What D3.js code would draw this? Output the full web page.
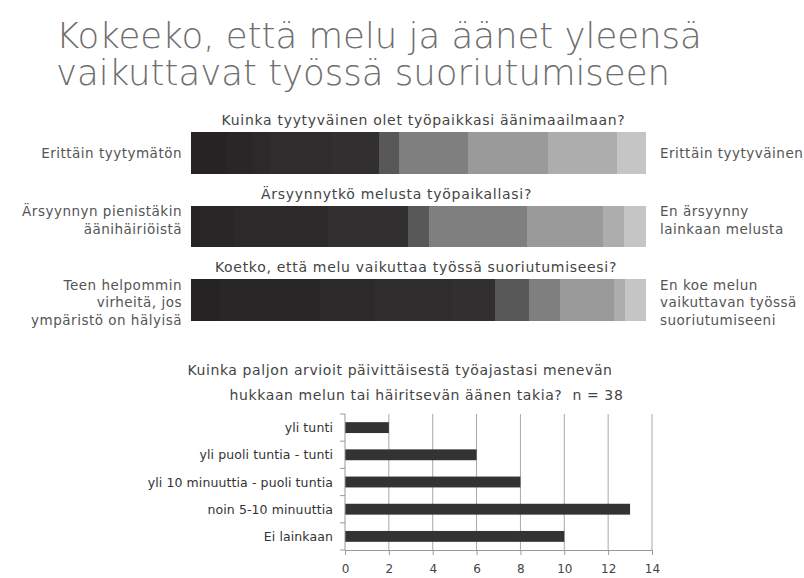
<!DOCTYPE html>
<html>
<head>
<meta charset="utf-8">
<script src="https://cdn.jsdelivr.net/npm/d3@7/dist/d3.min.js"></script>
<style>
  html, body { margin: 0; padding: 0; background: #fff; }
  svg { display: block; }
  text { font-family: "DejaVu Sans", "Open Sans", sans-serif; white-space: pre; }
</style>
</head>
<body>
<svg id="chart" width="804" height="578"></svg>
<script>
// ---- Data -------------------------------------------------------------
const titleLines = ["Kokeeko, että melu ja äänet yleensä", "vaikuttavat työssä suoriutumiseen"];

// Three 10-step scale questions, share of answers per step (%)
const questions = [
  "Kuinka tyytyväinen olet työpaikkasi äänimaailmaan?",
  "Ärsyynnytkö melusta työpaikallasi?",
  "Koetko, että melu vaikuttaa työssä suoriutumiseesi?"
];
const leftLabels = [
  ["Erittäin tyytymätön"],
  ["Ärsyynnyn pienistäkin", "äänihäiriöistä"],
  ["Teen helpommin", "virheitä, jos", "ympäristö on hälyisä"]
];
const rightLabels = [
  ["Erittäin tyytyväinen"],
  ["En ärsyynny", "lainkaan melusta"],
  ["En koe melun", "vaikuttavan työssä", "suoriutumiseeni"]
];
const scaleSteps = ["1", "2", "3", "4", "5", "6", "7", "8", "9", "10"];
const shares = [
  [7.9, 5.5, 4.0, 13.6, 10.3, 4.4, 15.2, 17.6, 15.2, 6.3],
  [2.0, 7.7, 20.4, 0.0, 17.6, 4.6, 21.5, 16.7, 4.6, 4.9],
  [6.4, 22.0, 11.6, 17.4, 9.5, 7.3, 6.8, 11.9, 2.4, 4.7]
];
const stepColors = ["#252324", "#282627", "#2b292a", "#2e2c2d", "#312f30",
                    "#585858", "#7f7f7f", "#9a9a9a", "#adadad", "#c5c5c5"];

// Time lost daily to noise
const timeTitle = ["Kuinka paljon arvioit päivittäisestä työajastasi menevän",
                   "hukkaan melun tai häiritsevän äänen takia?  n = 38"];
const timeCategories = ["yli tunti", "yli puoli tuntia - tunti", "yli 10 minuuttia - puoli tuntia",
                        "noin 5-10 minuuttia", "Ei lainkaan"];
const timeCounts = [2, 6, 8, 13, 10];
const timeTicks = [0, 2, 4, 6, 8, 10, 12, 14];

// ---- Drawing ----------------------------------------------------------
const svg = d3.select("#chart");

// Main heading, two lines in one text block
svg.append("text")
  .attr("font-size", 35.5).attr("font-weight", 200)
  .attr("fill", "#6e6e6e")
  .selectAll("tspan").data(titleLines).join("tspan")
  .attr("x", 56).attr("y", (d, i) => 48 + i * 37)
  .text(d => d);

// Stacked scale bars
const xs = d3.scaleLinear().domain([0, 100]).range([191, 646]);
const ys = d3.scaleBand().domain(questions).range([132, 321]).paddingInner(0.4286).paddingOuter(0);
const titleDx = [5, -22, -2.5];

const stackRows = questions.map((q, qi) => {
  let acc = 0;
  return shares[qi].map((v, si) => {
    const seg = { q, step: scaleSteps[si], x0: acc, x1: acc + v, color: stepColors[si] };
    acc += v;
    return seg;
  });
});

const rows = svg.append("g").selectAll("g").data(questions).join("g");
rows.selectAll("rect").data((q, qi) => stackRows[qi]).join("rect")
  .attr("x", d => xs(d.x0))
  .attr("width", d => Math.max(0, xs(d.x1) - xs(d.x0)))
  .attr("y", d => ys(d.q))
  .attr("height", ys.bandwidth())
  .attr("shape-rendering", "crispEdges")
  .attr("fill", d => d.color);

rows.append("text")
  .attr("x", (q, i) => (xs(0) + xs(100)) / 2 + titleDx[i])
  .attr("y", q => ys(q) - 7)
  .attr("text-anchor", "middle")
  .attr("font-size", 14)
  .attr("letter-spacing", 0.7)
  .attr("fill", "#444")
  .text(q => q);

function sideLabels(lines, x, anchor) {
  rows.each(function (q, qi) {
    const ls = lines[qi];
    const lh = 17.5;
    const firstMid = ls.length > 1 ? ys(q) + 5.5 : ys(q) + ys.bandwidth() / 2;
    d3.select(this).selectAll("text.side-" + anchor).data(ls).join("text")
      .attr("class", "side-" + anchor)
      .attr("x", x)
      .attr("y", (d, i) => firstMid + i * lh + 5)
      .attr("text-anchor", anchor)
      .attr("font-size", 13.5)
      .attr("letter-spacing", 0.5)
      .attr("fill", "#555")
      .text(d => d);
  });
}
sideLabels(leftLabels, 182, "end");
sideLabels(rightLabels, 660, "start");

// Horizontal bar chart
const bx = d3.scaleLinear().domain([0, 14]).range([345, 652]);
const by = d3.scaleBand().domain(timeCategories).range([414, 550]).paddingInner(0.6).paddingOuter(0.3);

svg.append("g").selectAll("text").data(timeTitle).join("text")
  .attr("x", (d, i) => i === 0 ? 400 : 426.5)
  .attr("y", (d, i) => 375 + i * 25)
  .attr("text-anchor", "middle")
  .attr("font-size", 14)
  .attr("letter-spacing", 0.6)
  .attr("fill", "#444")
  .text(d => d);

// Vertical gridlines
svg.append("g").selectAll("line").data(timeTicks.slice(1)).join("line")
  .attr("x1", d => bx(d)).attr("x2", d => bx(d))
  .attr("y1", 414).attr("y2", 550)
  .attr("stroke", "#a8a8a8").attr("stroke-width", 1);

// Bars
svg.append("g").selectAll("rect").data(timeCategories).join("rect")
  .attr("x", bx(0))
  .attr("y", d => by(d))
  .attr("width", (d, i) => bx(timeCounts[i]) - bx(0))
  .attr("height", by.bandwidth())
  .attr("fill", "#333");

// X axis
const xAxis = svg.append("g").attr("transform", "translate(0,550)")
  .call(d3.axisBottom(bx).tickValues(timeTicks).tickSize(5).tickSizeOuter(0));
xAxis.select(".domain").attr("stroke", "#999");
xAxis.selectAll(".tick line").attr("stroke", "#999");
xAxis.selectAll(".tick text").attr("font-size", 12).attr("fill", "#444")
  .attr("font-family", "\"DejaVu Sans\", sans-serif")
  .attr("y", 23).attr("dy", 0);

// Y axis: tick marks sit between categories
const yAxisG = svg.append("g");
yAxisG.append("line").attr("x1", bx(0)).attr("x2", bx(0)).attr("y1", 414).attr("y2", 550)
  .attr("stroke", "#999");
const boundaries = d3.range(timeCategories.length + 1).map(i => by.range()[0] + i * (by.range()[1] - by.range()[0]) / timeCategories.length);
yAxisG.selectAll("line.tk").data(boundaries).join("line").attr("class", "tk")
  .attr("x1", bx(0) - 5).attr("x2", bx(0)).attr("y1", d => d).attr("y2", d => d)
  .attr("stroke", "#999");
yAxisG.selectAll("text").data(timeCategories).join("text")
  .attr("x", 333)
  .attr("y", d => by(d) + by.bandwidth() / 2 + 4.5)
  .attr("text-anchor", "end")
  .attr("font-size", 12.5)
  .attr("letter-spacing", 0.1)
  .attr("fill", "#333")
  .text(d => d);
</script>
</body>
</html>
